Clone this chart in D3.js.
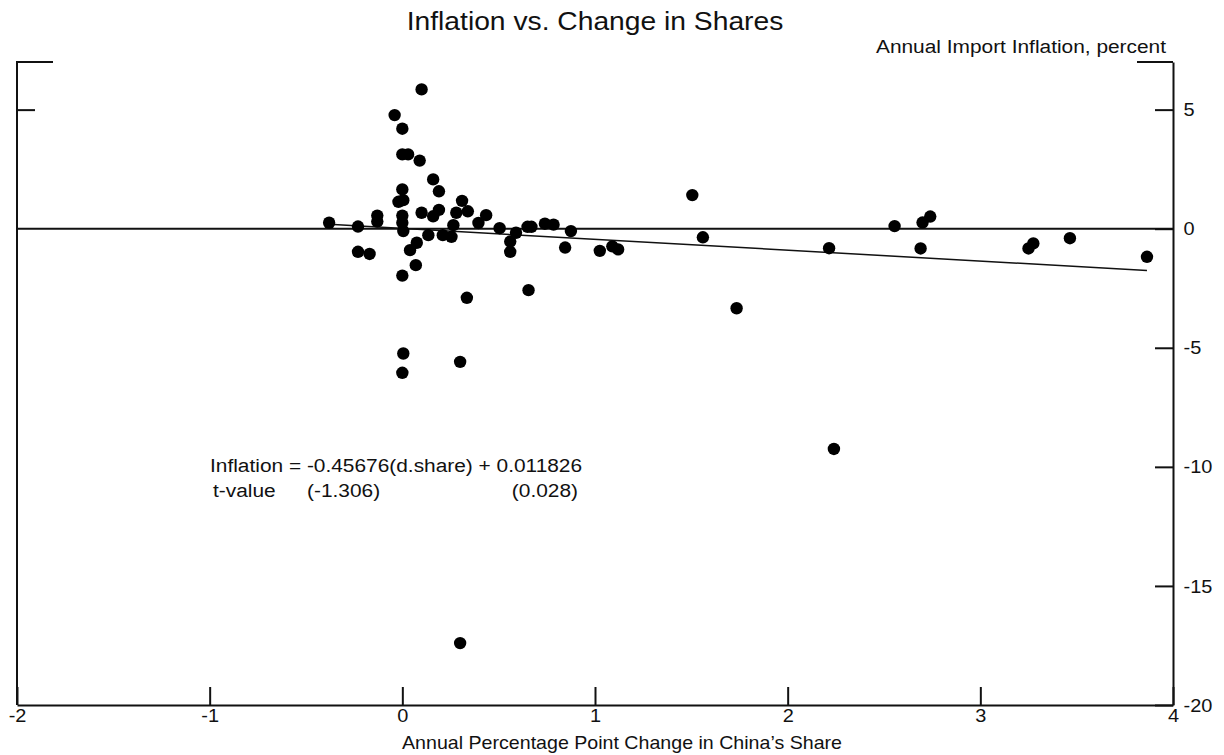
<!DOCTYPE html>
<html>
<head>
<meta charset="utf-8">
<title>Inflation vs. Change in Shares</title>
<script src="https://cdn.jsdelivr.net/npm/d3@7"></script>
<style>
  html, body { margin: 0; padding: 0; background: #ffffff; }
  svg { display: block; }
  text { font-family: "Liberation Sans", Arial, sans-serif; fill: #111; }
</style>
</head>
<body>
<svg id="chart" width="1224" height="755"></svg>
<script>
// Annual percentage point change in China's import share (x) and annual import inflation (y)
const shareChange = [
  -0.38, -0.23, -0.13, -0.13, -0.23, -0.17, -0.04, 0.00, 0.00, 0.03,
   0.09,  0.10,  0.16,  0.19,  0.00, -0.02, 0.005, 0.00, 0.00, 0.005,
   0.10,  0.16,  0.19,  0.135, 0.21, 0.255, 0.265, 0.28, 0.31, 0.34,
   0.075, 0.04,  0.07,  0.00,  0.395, 0.435, 0.505, 0.56, 0.56, 0.59,
   0.65,  0.67,  0.74,  0.785, 0.875, 0.845, 0.655, 0.335, 0.005, 0.00,
   0.30,  0.30,  1.025, 1.09,  1.12,  1.505, 1.56, 1.735, 2.215, 2.24,
   2.555, 2.70,  2.74,  2.69,  3.25,  3.275, 3.465, 3.865
];
const importInflation = [
   0.25,  0.09,  0.55,  0.30, -0.97, -1.06,  4.77,  4.20,  3.12,  3.12,
   2.86,  5.85,  2.07,  1.57,  1.65,  1.13,  1.20,  0.55,  0.25, -0.10,
   0.67,  0.52,  0.79, -0.27, -0.27, -0.34,  0.15,  0.67,  1.17,  0.73,
  -0.59, -0.90, -1.53, -1.97,  0.24,  0.57,  0.02, -0.54, -0.97, -0.17,
   0.08,  0.08,  0.21,  0.17, -0.10, -0.79, -2.58, -2.90, -5.24, -6.05,
  -5.59, -17.4, -0.93, -0.74, -0.87,  1.41, -0.36, -3.34, -0.82, -9.25,
   0.11,  0.26,  0.51, -0.83, -0.83, -0.62, -0.40, -1.18
];

// Fitted regression: Inflation = slope * d.share + intercept
const slope = -0.45676;
const intercept = 0.011826;
const slopeT = "(-1.306)";
const interceptT = "(0.028)";

const xTicks = [-2, -1, 0, 1, 2, 3, 4];
const yTicks = [5, 0, -5, -10, -15, -20];

const points = shareChange.map((s, i) => ({ s, v: importInflation[i] }));

const svg = d3.select("#chart");
const x = d3.scaleLinear().domain([-2, 4]).range([17, 1173]);
const y = d3.scaleLinear().domain([-20, 7]).range([705, 62]);

const FONT = '"Liberation Sans", Arial, sans-serif';

// Lettering is slightly stretched horizontally
function label(str, px, py, size, anchor, sx) {
  return svg.append("text")
    .attr("transform", `translate(${px},${py}) scale(${sx},1)`)
    .attr("text-anchor", anchor)
    .style("font-size", size + "px")
    .text(str);
}

// Frame: left and right verticals with short top brackets
const frame = svg.append("g").attr("stroke", "#111").attr("stroke-width", 2).attr("fill", "none");
frame.append("path").attr("d", `M${x(-2) + 36},${y(7)}H${x(-2)}V${y(-20)}`);
frame.append("path").attr("d", `M${x(4) - 36},${y(7)}H${x(4)}`);

// Bottom axis, ticks pointing up into the plot
const xAxis = svg.append("g")
  .attr("transform", `translate(0,${y(-20)})`)
  .call(d3.axisBottom(x).tickValues(xTicks).tickFormat(d => String(d))
    .tickSizeInner(-18).tickSizeOuter(0).tickPadding(4));
xAxis.select(".domain").attr("stroke", "#111").attr("stroke-width", 2);
xAxis.selectAll(".tick line").attr("stroke", "#111").attr("stroke-width", 2);
xAxis.selectAll(".tick text")
  .attr("fill", "#111")
  .style("font-family", FONT)
  .style("font-size", "19px")
  .attr("transform", "scale(1.05,1)");

// Right value axis, ticks pointing left into the plot
const yAxis = svg.append("g")
  .attr("transform", `translate(${x(4)},0)`)
  .call(d3.axisRight(y).tickValues(yTicks).tickFormat(d => String(d))
    .tickSizeInner(-18).tickSizeOuter(0).tickPadding(10));
yAxis.select(".domain").attr("stroke", "#111").attr("stroke-width", 2);
yAxis.selectAll(".tick line").attr("stroke", "#111").attr("stroke-width", 2);
yAxis.selectAll(".tick text")
  .attr("fill", "#111")
  .style("font-family", FONT)
  .style("font-size", "19px")
  .attr("transform", "scale(1.05,1)");

// Left axis carries a single tick mark, no labels
const yAxisL = svg.append("g")
  .attr("transform", `translate(${x(-2)},0)`)
  .call(d3.axisLeft(y).tickValues([5]).tickFormat("").tickSizeInner(-18).tickSizeOuter(0));
yAxisL.select(".domain").remove();
yAxisL.selectAll(".tick line").attr("stroke", "#111").attr("stroke-width", 2);

// Zero reference line
svg.append("line")
  .attr("x1", x(-2)).attr("x2", x(4))
  .attr("y1", y(0)).attr("y2", y(0))
  .attr("stroke", "#111").attr("stroke-width", 2);

// Regression line across the range of the data
const [sMin, sMax] = d3.extent(shareChange);
svg.append("line")
  .attr("x1", x(sMin)).attr("y1", y(slope * sMin + intercept))
  .attr("x2", x(sMax)).attr("y2", y(slope * sMax + intercept))
  .attr("stroke", "#111").attr("stroke-width", 1.5);

// Scatter points
svg.append("g").selectAll("circle")
  .data(points)
  .join("circle")
  .attr("cx", d => x(d.s))
  .attr("cy", d => y(d.v))
  .attr("r", 6.2)
  .attr("fill", "#000");

// Titles
label("Inflation vs. Change in Shares", 595, 30, 25, "middle", 1.13);
label("Annual Import Inflation, percent", 1166, 53, 18, "end", 1.16);
label("Annual Percentage Point Change in China\u2019s Share", 622, 749, 18, "middle", 1.09);

// Regression annotation
label(`Inflation = ${slope}(d.share) + ${intercept}`, 210, 472, 18, "start", 1.16);
label("t-value", 213, 497, 18, "start", 1.16);
label(slopeT, 307, 497, 18, "start", 1.16);
label(interceptT, 578, 497, 18, "end", 1.16);
</script>
</body>
</html>
